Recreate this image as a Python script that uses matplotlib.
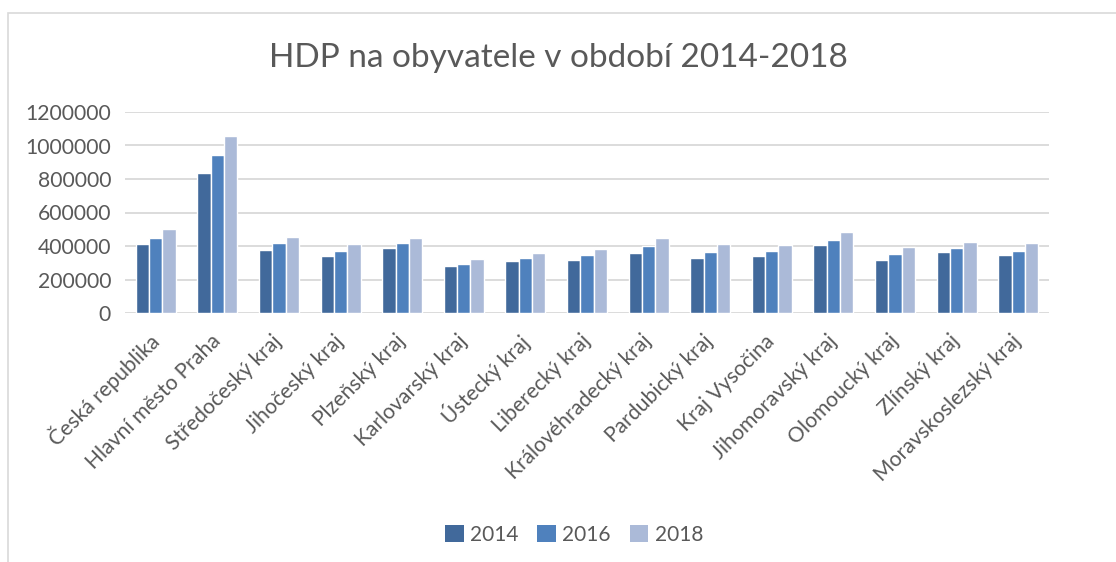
# libraries
import numpy as np
import matplotlib.pyplot as plt
from matplotlib.patches import Rectangle

# data
regions = ['Česká republika', 'Hlavní město Praha', 'Středočeský kraj',
           'Jihočeský kraj', 'Plzeňský kraj', 'Karlovarský kraj',
           'Ústecký kraj', 'Liberecký kraj', 'Královéhradecký kraj',
           'Pardubický kraj', 'Kraj Vysočina', 'Jihomoravský kraj',
           'Olomoucký kraj', 'Zlínský kraj', 'Moravskoslezský kraj']
hdp_2014 = [410000, 834000, 374000, 342000, 386000, 281000, 308000, 314000,
            356000, 330000, 340000, 404000, 318000, 362000, 344000]
hdp_2016 = [450000, 941000, 416000, 370000, 420000, 295000, 330000, 348000,
            400000, 366000, 368000, 434000, 350000, 386000, 372000]
hdp_2018 = [500000, 1055000, 452000, 412000, 448000, 320000, 356000, 384000,
            450000, 410000, 404000, 484000, 394000, 422000, 416000]
years = ['2014', '2016', '2018']
yticks = [0, 200000, 400000, 600000, 800000, 1000000, 1200000]

colors = ['#41699b', '#4f81bd', '#abbad8']
grey = '#595959'

plt.rcParams['font.family'] = ['Lato', 'DejaVu Sans']

fig = plt.figure(figsize=(11.16, 5.62), dpi=100)

# chart frame (cropped on the right and bottom)
fig.patches.append(Rectangle((8 / 1116, -0.1), 1.2, 1 - 13 / 562 + 0.1,
                             transform=fig.transFigure, fill=False,
                             edgecolor='#d9d9d9', linewidth=1.2))

ax = fig.add_axes([125 / 1116, 1 - 313 / 562, 924 / 1116, 201 / 562])

x = np.arange(len(regions))
w = 0.216
for i, (vals, c, lab) in enumerate(zip([hdp_2014, hdp_2016, hdp_2018], colors, years)):
    ax.bar(x + (i - 1) * w, vals, w, color=c, edgecolor='white',
           linewidth=1.0, label=lab, zorder=3)

ax.set_xlim(-0.5, len(regions) - 0.5)
ax.set_ylim(0, 1200000)
ax.set_yticks(yticks)
ax.set_yticklabels([str(v) for v in yticks])
ax.yaxis.grid(True, color='#d9d9d9', linewidth=1.3, zorder=0)
for s in ax.spines.values():
    s.set_visible(False)
ax.tick_params(axis='y', length=0, pad=10, labelsize=15.2, labelcolor=grey)
ax.tick_params(axis='x', length=0, pad=18, labelsize=15.2, labelcolor=grey)
ax.set_xticks(x)
ax.set_xticklabels(regions, rotation=45, ha='right', va='center',
                   rotation_mode='anchor')

fig.text(0.5, 1 - 58 / 562, 'HDP na obyvatele v období 2014-2018',
         ha='center', va='center', fontsize=24, color=grey)

leg = fig.legend(loc='center', bbox_to_anchor=(574 / 1116, 1 - 535 / 562),
                 ncol=3, frameon=False, fontsize=15, handlelength=0.9,
                 handleheight=0.9, handletextpad=0.3, columnspacing=0.9)
for t in leg.get_texts():
    t.set_color(grey)
for h in leg.legend_handles:
    h.set_edgecolor('none')

plt.savefig('out.png', dpi=100)
